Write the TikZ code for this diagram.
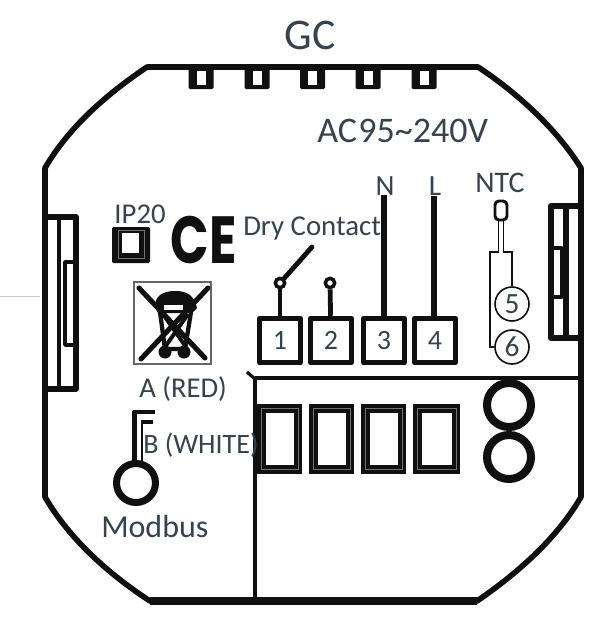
\documentclass[tikz,border=0pt]{standalone}
\usepackage{graphicx}
\usepackage{fontspec}
\setmainfont{Carlito}
\newfontfamily\cefont{Poppins}
\definecolor{ink}{HTML}{101010}
\definecolor{txt}{HTML}{36434F}
\tikzset{
 x=0.75pt,y=-0.75pt,
 heavy/.style={draw=ink,line width=4.2pt,line join=round},
 mid/.style={draw=ink,line width=2.6pt,line join=round},
 thin/.style={draw=ink,line width=1.3pt},
 seam/.style={draw=black!55,line width=0.4pt},
 label/.style={text=txt,inner sep=0pt,font=\fontsize{22}{22}\selectfont},
 tagtext/.style={text=txt,inner sep=0pt,font=\fontsize{21.5}{22}\selectfont},
 term/.style={draw=ink,line width=4.1pt,minimum width=30.5pt,minimum height=33pt,inner sep=0pt,text=txt,font=\fontsize{21}{22}\selectfont,line join=round},
 pin/.style={circle,draw=ink,line width=2.6pt,minimum size=7pt,inner sep=0pt},
 numc/.style={circle,draw=ink,line width=1.2pt,minimum size=25.5pt,inner sep=0pt,text=txt,font=\fontsize{22}{22}\selectfont},
}
\begin{document}
\begin{tikzpicture}
\useasboundingbox (0,0) rectangle (600,628);
\fill[white] (0,0) rectangle (600,628);
% outline
\draw[heavy] (147,67) -- (478,67) .. controls (516,92) and (556,128) .. (581,168) -- (581,497)
 .. controls (556,540) and (515,575) .. (477,601) -- (150,601)
 .. controls (110,575) and (70,540) .. (45,497) -- (45,168) .. controls (70,125) and (110,92) .. (147,67) -- cycle;
\draw[draw=ink,line width=5.4pt] (150,601) -- (477,601);
% top tabs
\foreach \x in {201,257,312.5,368,424}{
 \fill[ink,rounded corners=1pt] (\x-12.5,66) rectangle (\x+12.5,89);
 \fill[white] (\x-4.5,71) rectangle (\x+4.5,85);
}
% left clip
\draw[heavy] (47,217) -- (76,217) -- (76,389) -- (47,389);
\draw[heavy,line width=3.4pt] (59,217) -- (59,389);
\draw[mid] (74,262) -- (65,262) -- (65,345) -- (74,345);
% right clip
\draw[heavy] (580,206) -- (551,206) -- (551,338) -- (580,338);
\draw[heavy,line width=3.8pt] (566,206) -- (566,338);
\draw[mid] (553,248) -- (562,248) -- (562,297) -- (553,297);
% IP20 box
\fill[ink,rounded corners=1pt] (112,227) rectangle (150,263);
\fill[white] (122,233) rectangle (139,253);
\draw[seam] (118,230) rectangle (144,258);
\node[tagtext] (ip) at (140,214) {IP20};
% CE
\node[inner sep=0pt,text=ink] (ce) at (203.5,240) {\scalebox{0.76}[1]{\cefont\bfseries\fontsize{50}{50}\selectfont CE}};
% WEEE
\draw[draw=black!60,line width=1pt] (134,282) rectangle (211,364);
\draw[ink,line width=3.8pt,line cap=round] (139,288) -- (205,358);
\draw[ink,line width=3.8pt,line cap=round] (208,288) -- (141,359);
\fill[ink] (155,306) .. controls (155,296) and (163,291) .. (175,291) .. controls (187,291) and (194,295) .. (197,308) -- (192,313) -- (158,313) -- cycle;
\fill[white] (164,305) rectangle (183,310);
\draw[ink,line width=3.2pt] (160,312) -- (165,349) -- (185,349) -- (191,312);
\draw[ink,line width=3pt] (163,314) -- (186,347);
\draw[ink,line width=3pt] (188,314) -- (165,347);
\fill[ink] (165,352) circle (6.5);
\fill[ink] (184,352) circle (6.5);
% terminals and wires
\node[term] (t1) at (280,340.5) {1};
\node[term] (t2) at (331,340.5) {2};
\node[term] (t3) at (384,340.5) {3};
\node[term] (t4) at (435,340.5) {4};
\node[pin] (p1) at (280,283) {};
\node[pin] (p2) at (330,283) {};
\coordinate (sw) at (312,247);
\draw[draw=ink,line width=3.6pt] (p1) -- (t1);
\draw[draw=ink,line width=3.6pt] (p2) -- (t2);
\draw[draw=ink,line width=3.6pt,line cap=round] (p1) -- (sw);
\node[label] (n) at (385,186) {N};
\node[label] (l) at (435,186) {L};
\draw[line width=3.8pt,draw=ink] (384,195) -- (t3);
\draw[line width=3.8pt,draw=ink] (434,196) -- (t4.north -| 434,0);
\node[label,anchor=west,font=\fontsize{21.6}{22}\selectfont] (dry) at (243,228) {Dry Contact};
\node[label,font=\fontsize{22.4}{22}\selectfont] (ntc) at (500,183) {NTC};
% NTC probe
\draw[draw=ink,line width=2.2pt,rounded corners=3pt] (495,220) -- (495,201) -- (507,201) -- (507,220) -- cycle;
\node[numc] (n5) at (512,304) {5};
\node[numc] (n6) at (512,347) {6};
\draw[thin] (498.5,220) -- (498.5,252) -- (490,252) -- (490,347) -- (n6);
\draw[thin] (503.5,220) -- (503.5,252) -- (512,252) -- (n5);
% lower split
\draw[draw=ink,line width=3.4pt] (255,378) -- (581,378);
\draw[draw=ink,line width=3.4pt] (255,378) -- (255,600);
\draw[draw=ink,line width=2.4pt] (247,372) -- (255,379);
% relay boxes
\foreach \a/\b in {257/302,309/354,361/406,413/460}{
 \fill[ink] (\a,404) rectangle (\b,474);
 \fill[white] (\a+8.5,412.5) rectangle (\b-8,465);
 \draw[seam] (\a+4.5,408) rectangle (\b-4,469.5);
}
% round holes
\draw[draw=ink,line width=6pt] (509,405) circle (22);
\draw[draw=ink,line width=6pt] (509,457) circle (22);
% Modbus
\draw[draw=ink,line width=3pt] (133,412) -- (155,412);
\draw[draw=ink,line width=3.6pt] (134.5,411) -- (134.5,462);
\draw[draw=ink,line width=2.6pt] (141,422) -- (153,422);
\draw[draw=ink,line width=2pt] (142,421) -- (142,462);
\draw[draw=ink,line width=5.25pt] (136,483) circle (19.5);
\node[tagtext,anchor=west] (a) at (139,389) {A (RED)};
\node[tagtext,anchor=west,font=\fontsize{21}{22}\selectfont] (b) at (143,445) {B (WHITE)};
\node[label,anchor=west,font=\fontsize{24}{24}\selectfont] (m) at (101,527) {Modbus};
\node[label,font=\fontsize{32.8}{32}\selectfont] (gc) at (310,35) {GC};
\node[label,anchor=west,font=\fontsize{27}{26}\selectfont] (ac) at (317,131) {AC\hspace{1pt}95\textasciitilde 240V};
\draw[draw=black!22,line width=0.6pt] (0,296) -- (40,296);
\end{tikzpicture}
\end{document}
